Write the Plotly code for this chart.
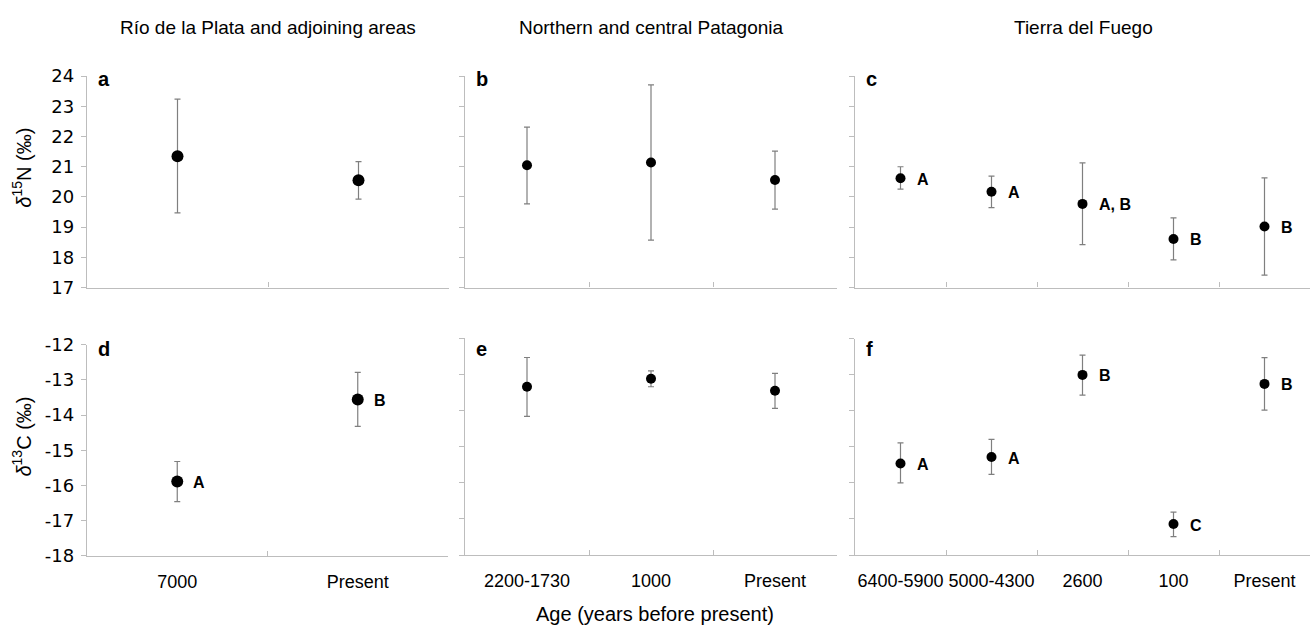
import plotly.graph_objects as go

# ---------------- data ----------------
cats_rio = ["7000", "Present"]
cats_pat = ["2200-1730", "1000", "Present"]
cats_tdf = ["6400-5900", "5000-4300", "2600", "100", "Present"]

# delta 15N (permil): mean, upper, lower
n15_rio = [21.35, 20.55]
n15_rio_hi = [23.24, 21.17]
n15_rio_lo = [19.47, 19.93]

n15_pat = [21.05, 21.14, 20.56]
n15_pat_hi = [22.31, 23.71, 21.52]
n15_pat_lo = [19.77, 18.57, 19.60]

n15_tdf = [20.62, 20.17, 19.77, 18.61, 19.02]
n15_tdf_hi = [21.00, 20.69, 21.13, 19.31, 20.63]
n15_tdf_lo = [20.26, 19.65, 18.42, 17.92, 17.41]
n15_tdf_letters = ["A", "A", "A, B", "B", "B"]

# delta 13C (permil)
c13_rio = [-15.89, -13.56]
c13_rio_hi = [-15.32, -12.79]
c13_rio_lo = [-16.46, -14.32]
c13_rio_letters = ["A", "B"]

c13_pat = [-13.34, -13.12, -13.45]
c13_pat_hi = [-12.53, -12.90, -12.97]
c13_pat_lo = [-14.16, -13.34, -13.94]

c13_tdf = [-15.46, -15.28, -13.00, -17.14, -13.25]
c13_tdf_hi = [-14.89, -14.79, -12.45, -16.81, -12.52]
c13_tdf_lo = [-16.00, -15.76, -13.56, -17.49, -13.98]
c13_tdf_letters = ["A", "A", "B", "C", "B"]

region_titles = ["Río de la Plata and adjoining areas", "Northern and central Patagonia", "Tierra del Fuego"]
panel_letters = ["a", "b", "c", "d", "e", "f"]
n15_ticks = [17, 18, 19, 20, 21, 22, 23, 24]
c13_ticks = [-18, -17, -16, -15, -14, -13, -12]

# ---------------- layout helpers ----------------
W, H = 1311, 639
FONT = "Arial, Liberation Sans, Helvetica, sans-serif"
YTFONT = "DejaVu Sans, Arial, sans-serif"
AXC = "#bdbdbd"
ERRC = "#7f7f7f"


def px_x(v):
    return v / W


def px_y(v):
    return 1 - v / H


fig = go.Figure()

panels = [
    # (axis idx, cats, mean, hi, lo, letters, marker size, xdom px, ydom px, yticks, letter top px)
    (1, cats_rio, n15_rio, n15_rio_hi, n15_rio_lo, None, 12, (87, 449), (67.3, 286), n15_ticks, 57),
    (2, cats_pat, n15_pat, n15_pat_hi, n15_pat_lo, None, 10, (465, 837), (67.3, 286), n15_ticks, 57),
    (3, cats_tdf, n15_tdf, n15_tdf_hi, n15_tdf_lo, n15_tdf_letters, 10, (855, 1310), (67.3, 286), n15_ticks, 57),
    (4, cats_rio, c13_rio, c13_rio_hi, c13_rio_lo, c13_rio_letters, 12, (87, 448), (345, 563.3), c13_ticks, 336),
    (5, cats_pat, c13_pat, c13_pat_hi, c13_pat_lo, None, 10, (465, 837), (338.5, 562.5), c13_ticks, 336),
    (6, cats_tdf, c13_tdf, c13_tdf_hi, c13_tdf_lo, c13_tdf_letters, 10, (855, 1310), (339, 562.5), c13_ticks, 336),
]

annotations = []
for i, cats, mean, hi, lo, letters, msize, xd, yd, yt, ltop in panels:
    xa = "x" if i == 1 else f"x{i}"
    ya = "y" if i == 1 else f"y{i}"
    plus = [h - m for h, m in zip(hi, mean)]
    minus = [m - l for m, l in zip(mean, lo)]
    fig.add_trace(go.Scatter(
        x=cats, y=mean, mode="markers", xaxis=xa, yaxis=ya,
        marker=dict(color="black", size=msize),
        error_y=dict(type="data", symmetric=False, array=plus, arrayminus=minus,
                     color=ERRC, thickness=1.2, width=3),
        showlegend=False, hoverinfo="skip",
    ))
    bottom = i > 3
    first_col = i in (1, 4)
    xkey = "xaxis" if i == 1 else f"xaxis{i}"
    ykey = "yaxis" if i == 1 else f"yaxis{i}"
    fig.layout[xkey] = dict(
        domain=[px_x(xd[0]), px_x(xd[1])], anchor=ya, type="category",
        categoryorder="array", categoryarray=cats, range=[-0.5, len(cats) - 0.5],
        showline=True, linecolor=AXC, linewidth=1.3, showgrid=False, zeroline=False,
        ticks="inside", tickson="boundaries", ticklen=5, tickcolor=AXC, tickwidth=1,
        showticklabels=bottom, tickangle=0, ticklabelstandoff=9,
        tickfont=dict(family=FONT, size=18, color="black"),
        fixedrange=True,
    )
    fig.layout[ykey] = dict(
        domain=[px_y(yd[1]), px_y(yd[0])], anchor=xa,
        range=[yt[0], yt[-1]], tickmode="array", tickvals=yt,
        ticktext=[str(v) for v in yt],
        showline=True, linecolor=AXC, linewidth=1.3, showgrid=False, zeroline=False,
        ticks="outside", ticklen=5, tickcolor=AXC, tickwidth=1,
        showticklabels=first_col, tickfont=dict(family=YTFONT, size=18, color="black"),
        ticklabelstandoff=3, fixedrange=True,
    )
    # significance letters (placed by category index)
    if letters:
        for k, (m, t) in enumerate(zip(mean, letters)):
            annotations.append(dict(
                x=k, y=m, xref=xa, yref=ya, text=f"<b>{t}</b>", showarrow=False,
                xanchor="left", yanchor="middle", xshift=14, yshift=-1,
                font=dict(family=FONT, size=16, color="black"),
            ))
    # panel letter
    annotations.append(dict(
        x=px_x(xd[0] + 9), y=px_y(ltop), xref="paper", yref="paper",
        text=f"<b>{panel_letters[i - 1]}</b>", showarrow=False,
        xanchor="left", yanchor="top", font=dict(family=FONT, size=20, color="black"),
    ))

# region titles
for t, cx in zip(region_titles, [268, 651, 1083]):
    annotations.append(dict(
        x=px_x(cx), y=px_y(17), xref="paper", yref="paper", text=t, showarrow=False,
        xanchor="center", yanchor="middle", font=dict(family=FONT, size=19, color="black"),
    ))

# axis titles
annotations.append(dict(
    x=px_x(655), y=px_y(624), xref="paper", yref="paper", text="Age (years before present)",
    showarrow=False, xanchor="center", yanchor="middle",
    font=dict(family=FONT, size=20, color="black"),
))
annotations.append(dict(
    x=px_x(22), y=px_y(162), xref="paper", yref="paper",
    text="<i>δ</i><sup>15</sup>N (‰)", textangle=-90, showarrow=False,
    xanchor="center", yanchor="middle", font=dict(family=FONT, size=20, color="black"),
))
annotations.append(dict(
    x=px_x(22), y=px_y(440), xref="paper", yref="paper",
    text="<i>δ</i><sup>13</sup>C (‰)", textangle=-90, showarrow=False,
    xanchor="center", yanchor="middle", font=dict(family=FONT, size=20, color="black"),
))

fig.update_layout(
    width=W, height=H, autosize=False, margin=dict(l=0, r=0, t=0, b=0),
    paper_bgcolor="white", plot_bgcolor="white",
    annotations=annotations, showlegend=False,
    font=dict(family=FONT, color="black"),
)

pin = ("var d=document.getElementById('{plot_id}');"
       "document.documentElement.style.margin='0';document.body.style.margin='0';"
       "document.body.style.overflow='hidden';"
       "d.style.position='fixed';d.style.left='0px';d.style.top='0px';")

fig.write_html("out.html", config={"displayModeBar": False, "responsive": False},
               post_script=pin)
